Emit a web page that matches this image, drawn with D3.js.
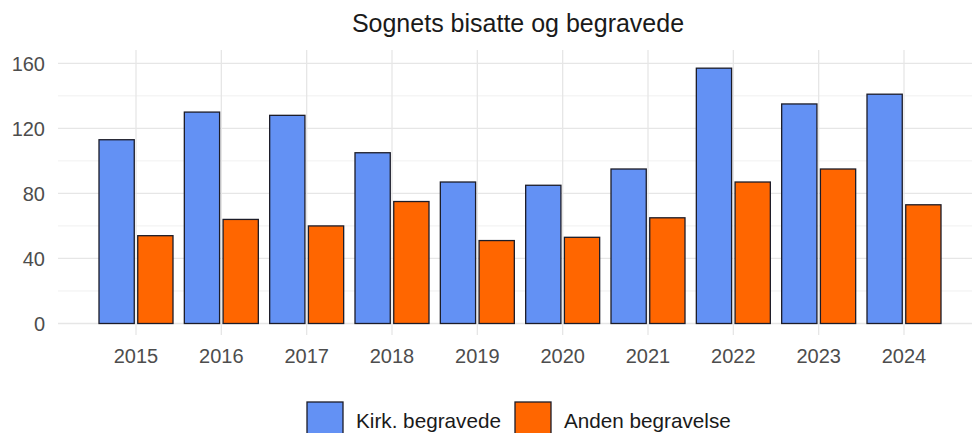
<!DOCTYPE html>
<html>
<head>
<meta charset="utf-8">
<script src="https://cdn.jsdelivr.net/npm/d3@7"></script>
<style>
  body { margin: 0; background: #fff; }
  text { font-family: "Liberation Sans", Arial, sans-serif; }
</style>
</head>
<body>
<div id="chart"></div>
<script>
// data
let years = ["2015", "2016", "2017", "2018", "2019", "2020", "2021", "2022", "2023", "2024"];
let kirkValues = [113, 130, 128, 105, 87, 85, 95, 157, 135, 141];
let andenValues = [54, 64, 60, 75, 51, 53, 65, 87, 95, 73];
let seriesNames = ["Kirk. begravede", "Anden begravelse"];
let yTicks = [0, 40, 80, 120, 160];
let yMinor = [20, 60, 100, 140];

let width = 972;
let height = 433;
let colors = ["#6391f4", "#ff6600"];

let rows = years.map((y, i) => ({ year: y, values: [kirkValues[i], andenValues[i]] }));

let svg = d3.select("#chart").append("svg")
    .attr("width", width)
    .attr("height", height);

// panel
let panel = { left: 58, right: 975, top: 50, bottom: 335 };

let x = d3.scalePoint().domain(years).range([136, 904]);
let sub = d3.scaleBand().domain([0, 1]).range([-37, 37]).paddingInner(0.09);
let y = d3.scaleLinear().domain([0, 160]).range([323.5, 63.3]);

let grid = svg.append("g");

// minor grid
grid.selectAll("line.minor")
    .data(yMinor)
  .enter().append("line")
    .attr("x1", panel.left).attr("x2", panel.right)
    .attr("y1", d => y(d)).attr("y2", d => y(d))
    .attr("stroke", "#ececec")
    .attr("stroke-width", 0.8);

// major grid
grid.selectAll("line.major")
    .data(yTicks)
  .enter().append("line")
    .attr("x1", panel.left).attr("x2", panel.right)
    .attr("y1", d => y(d)).attr("y2", d => y(d))
    .attr("stroke", "#e6e6e6")
    .attr("stroke-width", 1.3);

grid.selectAll("line.vert")
    .data(years)
  .enter().append("line")
    .attr("x1", d => x(d)).attr("x2", d => x(d))
    .attr("y1", panel.top).attr("y2", panel.bottom)
    .attr("stroke", "#e6e6e6")
    .attr("stroke-width", 1.3);

// bars
let groups = svg.append("g").selectAll("g")
    .data(rows)
  .enter().append("g")
    .attr("transform", d => "translate(" + x(d.year) + ",0)");

groups.selectAll("rect")
    .data(d => d.values)
  .enter().append("rect")
    .attr("x", (d, i) => sub(i))
    .attr("width", sub.bandwidth())
    .attr("y", d => y(d))
    .attr("height", d => y(0) - y(d))
    .attr("fill", (d, i) => colors[i])
    .attr("stroke", "#1c1c28")
    .attr("stroke-width", 1.3);

// y axis labels
svg.append("g").selectAll("text")
    .data(yTicks)
  .enter().append("text")
    .attr("x", 45)
    .attr("y", d => y(d))
    .attr("dy", "0.36em")
    .attr("text-anchor", "end")
    .attr("font-size", 20)
    .attr("fill", "#4d4d4d")
    .text(d => d);

// x axis labels
svg.append("g").selectAll("text")
    .data(years)
  .enter().append("text")
    .attr("x", d => x(d))
    .attr("y", 363)
    .attr("text-anchor", "middle")
    .attr("font-size", 20)
    .attr("fill", "#4d4d4d")
    .text(d => d);

// title
svg.append("text")
    .attr("x", 518)
    .attr("y", 32)
    .attr("text-anchor", "middle")
    .attr("font-size", 25)
    .attr("fill", "#1a1a1a")
    .text("Sognets bisatte og begravede");

// legend
let legendX = [307, 515];
let legend = svg.append("g").selectAll("g")
    .data(seriesNames)
  .enter().append("g")
    .attr("transform", (d, i) => "translate(" + legendX[i] + ",402)");

legend.append("rect")
    .attr("width", 36)
    .attr("height", 36)
    .attr("fill", (d, i) => colors[i])
    .attr("stroke", "#1c1c28")
    .attr("stroke-width", 1.3);

legend.append("text")
    .attr("x", 49)
    .attr("y", 26)
    .attr("font-size", 20.7)
    .attr("fill", "#1a1a1a")
    .text(d => d);
</script>
</body>
</html>
